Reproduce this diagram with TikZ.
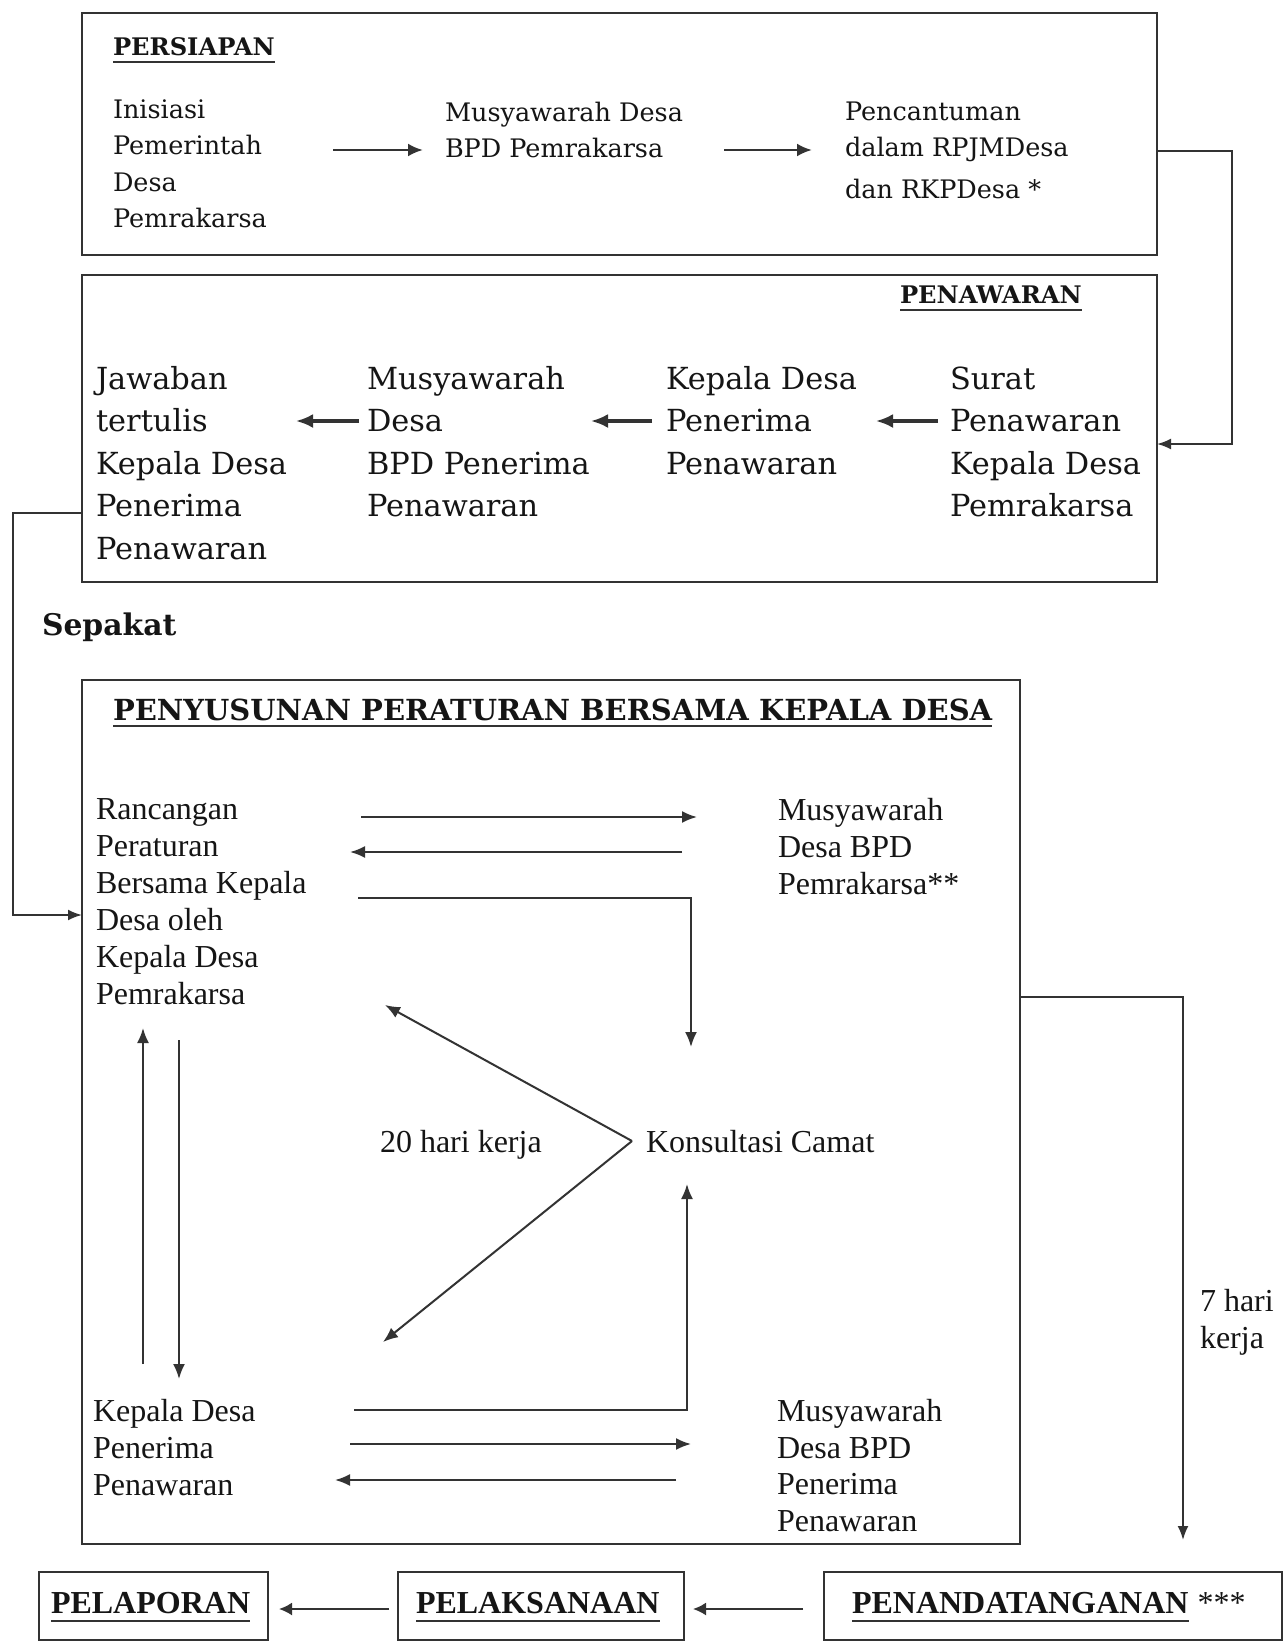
\documentclass[tikz,border=0pt]{standalone}
\usepackage{fontspec}
\setmainfont{Liberation Serif}
\newfontfamily\bkfont{DejaVu Serif}
\usetikzlibrary{arrows.meta}
\definecolor{linec}{HTML}{333333}
\definecolor{textc}{HTML}{151515}
\newcommand{\myfA}{\bkfont\fontsize{25.5}{36.5}\selectfont}
\newcommand{\myfAm}{\bkfont\fontsize{25.5}{36}\selectfont}
\newcommand{\myfAp}{\bkfont\fontsize{25.5}{36.5}\selectfont}
\newcommand{\myfB}{\bkfont\fontsize{30.4}{42.5}\selectfont}
\newcommand{\myfT}{\bkfont\bfseries\fontsize{24.2}{28}\selectfont}
\newcommand{\myfS}{\bkfont\bfseries\fontsize{29.8}{32}\selectfont}
\newcommand{\myfH}{\bkfont\bfseries\fontsize{29}{32}\selectfont}
\newcommand{\myfC}{\fontsize{32}{37}\selectfont}
\newcommand{\myfCm}{\fontsize{32}{36.5}\selectfont}
\newcommand{\myfD}{\bfseries\fontsize{32}{36}\selectfont}
\tikzset{
  txt/.style={inner sep=0pt, outer sep=0pt, anchor=base west, align=left, text=textc},
  boxn/.style={draw=linec, line width=2.2pt, inner sep=0pt, outer sep=0pt, anchor=north west},
  boxb/.style={boxn, line width=2.8pt},
  arrA/.style={draw=linec, line width=2.6pt, -{Latex[length=15pt,width=13pt]}},
  arrB/.style={draw=linec, line width=3.2pt, -{Latex[length=17pt,width=14pt]}},
  arrC/.style={draw=linec, line width=2pt, -{Latex[length=15pt,width=12pt]}},
  arrD/.style={draw=linec, line width=2pt, -{Latex[length=13pt,width=13pt]}},
  conn/.style={draw=linec, line width=2pt, -{Latex[length=14pt,width=11pt]}},
  uline/.style={draw=linec, line width=2.6pt},
}
\begin{document}
\begin{tikzpicture}[x=1pt,y=-1pt]
\useasboundingbox[fill=white] (0,0) rectangle (1285,1641);

% ---------- boxes ----------
\node[boxn, minimum width=1075pt, minimum height=242pt] (b1) at (82,13) {};
\node[boxn, minimum width=1075pt, minimum height=307pt] (b2) at (82,275) {};
\node[boxn, minimum width=938pt, minimum height=864pt] (b3) at (82,680) {};
\node[boxb, minimum width=229pt, minimum height=68pt] (b4) at (39,1572) {};
\node[boxb, minimum width=286pt, minimum height=68pt] (b5) at (398,1572) {};
\node[boxb, minimum width=458pt, minimum height=68pt] (b6) at (824,1572) {};

% ---------- PERSIAPAN ----------
\node[txt, font=\myfT] (t1) at (113,55) {PERSIAPAN};
\draw[uline] ([yshift=-7pt]t1.base west) -- ([yshift=-7pt]t1.base east);
\node[txt, font=\myfA] (ini) at (113,227.5) {Inisiasi\\Pemerintah\\Desa\\Pemrakarsa};
\node[txt, font=\myfAm] (mus1) at (445,157) {Musyawarah Desa\\BPD Pemrakarsa};
\node[txt, font=\myfAp] (pen) at (845,198) {Pencantuman\\dalam RPJMDesa\\[5pt]dan RKPDesa *};
\coordinate (a1s) at (333,150); \coordinate (a1e) at (423,150);
\coordinate (a2s) at (724,150); \coordinate (a2e) at (812,150);
\draw[arrA] (a1s) -- (a1e);
\draw[arrA] (a2s) -- (a2e);

% ---------- PENAWARAN ----------
\node[txt, font=\myfT] (t2) at (900,303) {PENAWARAN};
\draw[uline] ([yshift=-7pt]t2.base west) -- ([yshift=-7pt]t2.base east);
\node[txt, font=\myfB] (jaw) at (96,559) {Jawaban\\tertulis\\Kepala Desa\\Penerima\\Penawaran};
\node[txt, font=\myfB] (mus2) at (367,516.5) {Musyawarah\\Desa\\BPD Penerima\\Penawaran};
\node[txt, font=\myfB] (kep) at (666,474) {Kepala Desa\\Penerima\\Penawaran};
\node[txt, font=\myfB] (sur) at (950,516.5) {Surat\\Penawaran\\Kepala Desa\\Pemrakarsa};
\coordinate (a3s) at (938,421); \coordinate (a3e) at (876,421);
\coordinate (a4s) at (652,421); \coordinate (a4e) at (591,421);
\coordinate (a5s) at (359,421); \coordinate (a5e) at (296,421);
\draw[arrB] (a3s) -- (a3e);
\draw[arrB] (a4s) -- (a4e);
\draw[arrB] (a5s) -- (a5e);

% ---------- connectors between boxes ----------
\draw[conn] ([yshift=-17pt]b1.east) -- ++(75,0) |- ([yshift=-15.5pt]b2.east);
\draw[conn] ([yshift=-84.5pt]b2.west) -- ++(-69,0) |- ([yshift=197pt]b3.west);
\node[txt, font=\myfS] (sep) at (42,635) {Sepakat};

% ---------- PENYUSUNAN ----------
\node[txt, font=\myfH] (t3) at (113,720) {PENYUSUNAN PERATURAN BERSAMA KEPALA DESA};
\draw[uline] ([yshift=-6pt]t3.base west) -- ([yshift=-6pt]t3.base east);
\node[txt, font=\myfC] (ran) at (96,1004) {Rancangan\\Peraturan\\Bersama Kepala\\Desa oleh\\Kepala Desa\\Pemrakarsa};
\node[txt, font=\myfC] (musp) at (778,894) {Musyawarah\\Desa BPD\\Pemrakarsa**};
\node[txt, font=\myfC] (kc) at (646,1152) {Konsultasi Camat};
\node[txt, font=\myfC] (hk20) at (380,1152) {20 hari kerja};
\node[txt, font=\myfC] (kdp) at (93,1495.5) {Kepala Desa\\Penerima\\Penawaran};
\node[txt, font=\myfCm] (mdp) at (777,1531) {Musyawarah\\Desa BPD\\Penerima\\Penawaran};

\coordinate (r1s) at (361,817); \coordinate (r1e) at (697,817);
\coordinate (r2s) at (682,852); \coordinate (r2e) at (350,852);
\coordinate (r3s) at (358,898); \coordinate (r3e) at (691,1047);
\draw[arrC] (r1s) -- (r1e);
\draw[arrC] (r2s) -- (r2e);
\draw[arrC] (r3s) -| (r3e);

\coordinate (apx) at (632,1141);
\coordinate (vt1) at (385,1005); \coordinate (vt2) at (383,1342);
\draw[arrC] (apx) -- (vt1);
\draw[arrC] (apx) -- (vt2);

\coordinate (u1s) at (143,1364); \coordinate (u1e) at (143,1028);
\coordinate (d1s) at (179,1040); \coordinate (d1e) at (179,1379);
\draw[arrC] (u1s) -- (u1e);
\draw[arrC] (d1s) -- (d1e);

\coordinate (k1s) at (354,1410); \coordinate (k1e) at (687,1184);
\coordinate (k2s) at (350,1444); \coordinate (k2e) at (691,1444);
\coordinate (k3s) at (676,1480); \coordinate (k3e) at (335,1480);
\draw[arrC] (k1s) -| (k1e);
\draw[arrC] (k2s) -- (k2e);
\draw[arrC] (k3s) -- (k3e);

% ---------- to signing ----------
\draw[conn] ([yshift=115pt]b3.east) -- ++(163,0) -- ++(0,543);
\node[txt, font=\myfC] (hk7) at (1200,1348) {7 hari\\kerja};

% ---------- bottom row ----------
\node[txt, font=\myfD] (lap) at (51,1613) {PELAPORAN};
\node[txt, font=\myfD] (lak) at (416,1613) {PELAKSANAAN};
\node[txt, font=\myfD] (pnd) at (852,1613) {PENANDATANGANAN};
\node[txt, font=\myfC, anchor=base west] (ast) at ([xshift=9pt]pnd.base east) {***};
\draw[uline] ([yshift=-8pt]lap.base west) -- ([yshift=-8pt]lap.base east);
\draw[uline] ([yshift=-8pt]lak.base west) -- ([yshift=-8pt]lak.base east);
\draw[uline] ([yshift=-8pt]pnd.base west) -- ([yshift=-8pt]pnd.base east);
\draw[arrD] ([xshift=-21pt,yshift=-3pt]b6.west) -- ([xshift=9pt,yshift=-3pt]b5.east);
\draw[arrD] ([xshift=-9pt,yshift=-3pt]b5.west) -- ([xshift=11pt,yshift=-3pt]b4.east);
\end{tikzpicture}
\end{document}
